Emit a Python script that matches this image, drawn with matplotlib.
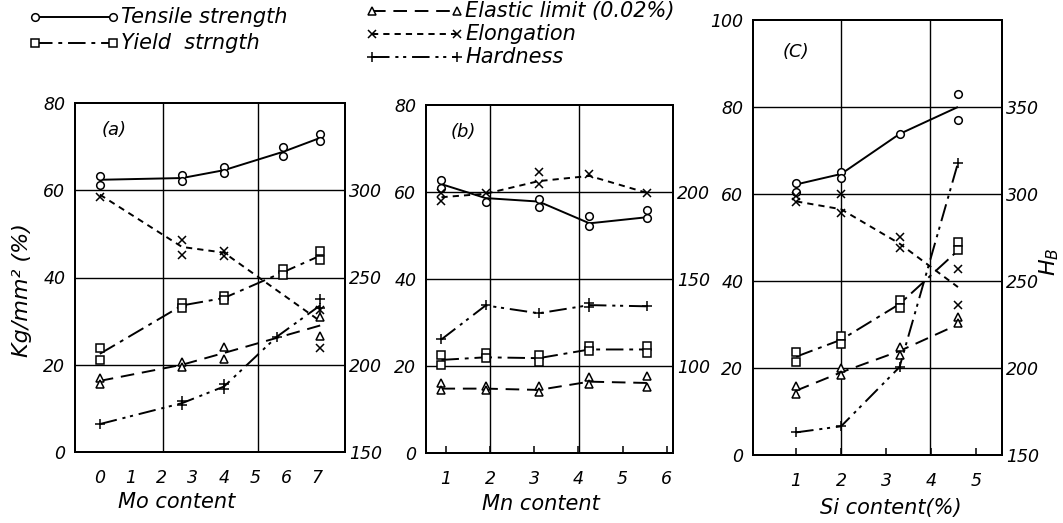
import matplotlib
matplotlib.use('Agg')
import matplotlib.pyplot as plt
from matplotlib.lines import Line2D

plt.rcParams['font.family'] = ['DejaVu Sans']
plt.rcParams['font.style'] = 'italic'
plt.rcParams['mathtext.fontset'] = 'dejavusans'

# ---------------- Panel (a): Mo content ----------------
mo_x = [0, 2.65, 4.0, 5.9, 7.1]
mo_tensile_pts = [[63.2, 61.1], [63.5, 62.1], [65.3, 64.0], [69.8, 67.9], [72.8, 71.4]]
mo_tensile_line = [62.4, 62.8, 64.6, 68.8, 72.0]
mo_yield_pts = [[23.8, 21.1], [34.2, 33.1], [35.8, 34.9], [41.9, 40.5], [46.0, 44.0]]
mo_yield_line = [22.5, 33.6, 35.3, 41.2, 45.0]
mo_x4 = [0, 2.65, 4.0, 7.1]
mo_elastic_pts = [[16.9, 15.7], [20.7, 19.5], [24.0, 21.3], [31.0, 26.5]]
mo_elastic_line = [16.3, 20.0, 22.7, 29.0]
mo_elong_pts = [[58.4], [48.6, 45.1], [46.0, 44.9], [32.5, 23.9]]
mo_elong_line = [59.0, 47.0, 45.7, 30.0]
mo_hard_x = [0, 2.65, 4.0, 5.7, 7.1]
mo_hard_pts = [[166], [179.5, 177], [189, 186], [216], [237.5, 232.5]]
mo_hard_line = [166, 178, 187.5, 216, 234]

# ---------------- Panel (b): Mn content ----------------
mn_x = [0.9, 1.9, 3.1, 4.25, 5.55]
mn_tensile_pts = [[62.7, 61.0], [57.8], [58.4, 56.6], [54.5, 52.2], [55.9, 54.0]]
mn_tensile_line = [61.8, 58.6, 57.8, 52.8, 54.2]
mn_elong_pts = [[59.8, 58.0], [59.8], [64.6, 61.8], [64.1], [59.8]]
mn_elong_line = [58.8, 59.6, 62.5, 63.7, 59.8]
mn_yield_pts = [[22.5, 20.2], [23.1, 21.9], [22.5, 21.0], [24.5, 23.5], [24.5, 23.0]]
mn_yield_line = [21.4, 22.0, 21.8, 23.8, 23.8]
mn_elastic_pts = [[16.0, 14.4], [15.4, 14.4], [15.3, 14.0], [17.4, 15.8], [17.6, 15.1]]
mn_elastic_line = [14.8, 14.8, 14.5, 16.4, 16.1]
mn_hard_pts = [[115.3], [134.8], [130.3], [136.0, 133.8], [134.3]]
mn_hard_line = [115.3, 134.8, 130.3, 135.0, 134.3]

# ---------------- Panel (c): Si content ----------------
si_x = [1, 2, 3.3, 4.6]
si_tensile_pts = [[62.5, 60.4], [65.0, 63.7], [73.8], [83.0, 77.0]]
si_tensile_line = [62.2, 64.6, 73.8, 80.0]
si_elong_pts = [[59.5, 58.2], [60.0, 55.6], [50.0, 47.6], [42.8, 34.5]]
si_elong_line = [58.3, 56.5, 48.6, 38.6]
si_yield_pts = [[23.7, 21.4], [27.3, 25.5], [35.6, 33.8], [49.0, 47.2]]
si_yield_line = [22.6, 26.5, 34.7, 47.0]
si_elastic_pts = [[15.8, 14.1], [20.0, 18.4], [24.9, 23.0], [31.8, 30.4]]
si_elastic_line = [14.8, 19.0, 23.9, 30.0]
si_hard_pts = [[163.0], [166.5], [200.5], [317.8]]
si_hard_line = [163.0, 166.5, 200.5, 317.8]

legend_left = ["Tensile strength", "Yield  strngth"]
legend_mid = ["Elastic limit (0.02%)", "Elongation", "Hardness"]

LW = 1.4
STY = {
    'tensile': dict(marker='o', dashes=None, ms=5.5),
    'yield': dict(marker='s', dashes=(9, 3, 2, 3), ms=5.5),
    'elastic': dict(marker='^', dashes=(7, 4), ms=6),
    'elong': dict(marker='x', dashes=(3.2, 2.6), ms=5.5),
    'hard': dict(marker='+', dashes=(9, 3, 1.6, 2.4, 1.6, 3), ms=7),
}


def series(ax, x, pts, line, key):
    s = STY[key]
    ln, = ax.plot(x, line, color='k', lw=LW, zorder=2, solid_capstyle='butt')
    if s['dashes'] is not None:
        ln.set_dashes(s['dashes'])
    xs = [xi for xi, p in zip(x, pts) for _ in p]
    ys = [v for p in pts for v in p]
    ax.plot(xs, ys, ls='none', marker=s['marker'], ms=s['ms'], mfc='white',
            mec='k', mew=1.1, zorder=4)


W, H = 1063, 523
fig = plt.figure(figsize=(W / 100, H / 100), dpi=100)


def box(l, r, t, b):
    return [l / W, 1 - b / H, (r - l) / W, (b - t) / H]


def setup(ax, ax2, xlim, ylim, y2lim, yticks, y2ticks, xticks, hgrid, vgrid, xtick_in):
    ax.set_xlim(*xlim)
    ax.set_ylim(*ylim)
    ax2.set_ylim(*y2lim)
    ax.set_yticks(yticks)
    ax2.set_yticks(y2ticks)
    ax.set_xticks(xticks)
    for a in (ax, ax2):
        for sp in a.spines.values():
            sp.set_linewidth(1.4)
    ax.tick_params(axis='y', length=0, pad=7, labelsize=12.5)
    ax2.tick_params(axis='y', length=0, pad=3, labelsize=12.5)
    if xtick_in:
        ax.tick_params(axis='x', direction='in', length=5, width=1.1, pad=12, labelsize=12.5)
    else:
        ax.tick_params(axis='x', length=0, pad=12, labelsize=12.5)
    for y in hgrid:
        ax.axhline(y, color='k', lw=1.0, zorder=1)
    for xv in vgrid:
        ax.axvline(xv, color='k', lw=1.0, zorder=1)


# Panel (a)
axa = fig.add_axes(box(75, 345, 103, 452))
axa2 = axa.twinx()
setup(axa, axa2, (-0.8, 7.9), (0, 80), (150, 350), [0, 20, 40, 60, 80],
      [150, 200, 250, 300], list(range(8)), [20, 40, 60], [2.05, 5.1], False)
series(axa, mo_x, mo_tensile_pts, mo_tensile_line, 'tensile')
series(axa, mo_x, mo_yield_pts, mo_yield_line, 'yield')
series(axa, mo_x4, mo_elastic_pts, mo_elastic_line, 'elastic')
series(axa, mo_x4, mo_elong_pts, mo_elong_line, 'elong')
series(axa2, mo_hard_x, mo_hard_pts, mo_hard_line, 'hard')
axa.text(0.1, 1 - 27 / 349, "(a)", transform=axa.transAxes, fontsize=13, va='center')

# Panel (b)
axb = fig.add_axes(box(426, 673, 105, 453))
axb2 = axb.twinx()
setup(axb, axb2, (0.55, 6.14), (0, 80), (50, 250), [0, 20, 40, 60, 80],
      [100, 150, 200], list(range(1, 7)), [20, 40, 60], [2.0, 4.02], True)
series(axb, mn_x, mn_tensile_pts, mn_tensile_line, 'tensile')
series(axb, mn_x, mn_elong_pts, mn_elong_line, 'elong')
series(axb, mn_x, mn_yield_pts, mn_yield_line, 'yield')
series(axb, mn_x, mn_elastic_pts, mn_elastic_line, 'elastic')
series(axb2, mn_x, mn_hard_pts, mn_hard_line, 'hard')
axb.text(0.1, 1 - 27 / 348, "(b)", transform=axb.transAxes, fontsize=13, va='center')

# Panel (c)
axc = fig.add_axes(box(753, 1002, 20, 455))
axc2 = axc.twinx()
setup(axc, axc2, (0.04, 5.58), (0, 100), (150, 400), [0, 20, 40, 60, 80, 100],
      [150, 200, 250, 300, 350], list(range(1, 6)), [20, 40, 60, 80], [2.0, 3.98], True)
series(axc, si_x, si_tensile_pts, si_tensile_line, 'tensile')
series(axc, si_x, si_elong_pts, si_elong_line, 'elong')
series(axc, si_x, si_yield_pts, si_yield_line, 'yield')
series(axc, si_x, si_elastic_pts, si_elastic_line, 'elastic')
series(axc2, si_x, si_hard_pts, si_hard_line, 'hard')
axc.text(0.12, 1 - 32 / 435, "(C)", transform=axc.transAxes, fontsize=13, va='center')

# axis labels
fig.text(177 / W, 1 - 502 / H, "Mo content", ha='center', va='center', fontsize=15)
fig.text(541 / W, 1 - 504 / H, "Mn content", ha='center', va='center', fontsize=15)
fig.text(891 / W, 1 - 508 / H, "Si content(%)", ha='center', va='center', fontsize=15)
fig.text(22 / W, 1 - 290 / H, "Kg/mm² (%)", ha='center', va='center', rotation=90, fontsize=16)
fig.text(1049 / W, 1 - 262 / H, r"$H_B$", ha='center', va='center', rotation=90, fontsize=16)


# legend (drawn in figure coordinates)
def leg(x1, x2, y, key, label):
    s = STY[key]
    fy = 1 - y / H
    ln = Line2D([x1 / W, x2 / W], [fy, fy], transform=fig.transFigure, color='k',
                lw=LW, marker=s['marker'], ms=s['ms'], mfc='white', mec='k', mew=1.1)
    if s['dashes'] is not None:
        ln.set_dashes(s['dashes'])
    fig.add_artist(ln)
    fig.text((x2 + 8) / W, fy, label, ha='left', va='center', fontsize=15)


leg(35, 113, 17, 'tensile', legend_left[0])
leg(35, 113, 43, 'yield', legend_left[1])
leg(372, 457, 11, 'elastic', legend_mid[0])
leg(372, 457, 34, 'elong', legend_mid[1])
leg(372, 457, 57, 'hard', legend_mid[2])

fig.savefig('out.png', dpi=100, facecolor='white')
